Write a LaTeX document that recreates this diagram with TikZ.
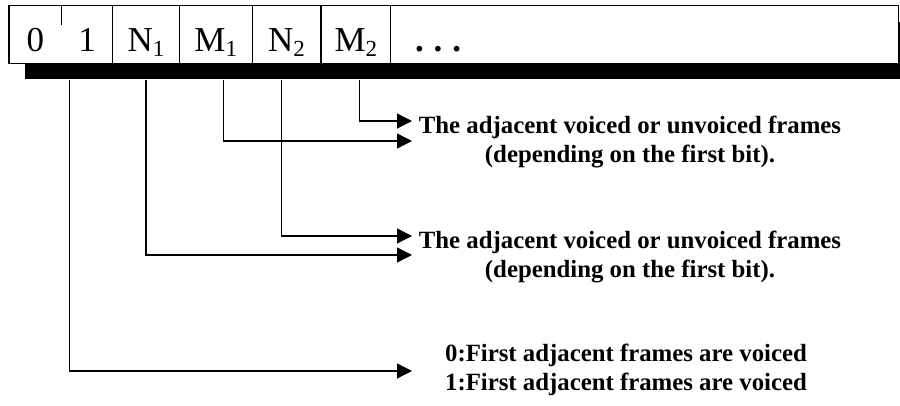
\documentclass[tikz,border=0pt]{standalone}
\usepackage{fontspec}
\setmainfont{Liberation Serif}
\usetikzlibrary{positioning,fit,calc,shadows,backgrounds,arrows.meta}

\newcommand{\idx}[1]{\raisebox{-0.3ex}{\fontsize{11.5}{12}\selectfont #1}}

\begin{document}
\begin{tikzpicture}[x=0.5pt,y=-0.5pt,
		cell/.style={inner sep=0pt,minimum height=28.5pt,text height=23pt,text depth=5.5pt,
			font=\fontsize{17.5}{20}\selectfont},
		desc/.style={align=center,font=\bfseries\fontsize{12.4}{14.5}\selectfont},
		arr/.style={line width=0.65pt,-{Triangle[length=7.5pt,width=7.5pt]}}]
	\useasboundingbox (0,0) rectangle (900,406);
	% the bit fields
	\node[cell,minimum width=26pt,anchor=west] (c0) at (9,34.5) {0};
	\node[cell,minimum width=25pt,right=0pt of c0] (c1) {1};
	\node[cell,minimum width=33pt,right=0pt of c1] (c2) {N\idx{1}};
	\node[cell,minimum width=36pt,right=0pt of c2] (c3) {M\idx{1}};
	\node[cell,minimum width=34pt,right=0pt of c3] (c4) {N\idx{2}};
	\node[cell,minimum width=34.5pt,right=0pt of c4] (c5) {M\idx{2}};
	\node[cell,minimum width=253.5pt,text width=229.5pt,inner xsep=12pt,align=left,right=0pt of c5] (c6) {\textbf{.\hspace{0.28em}.\hspace{0.28em}.}};
	\begin{scope}[on background layer]
		\node[fit=(c0)(c6),inner sep=0pt,draw,line width=0.6pt,fill=white,
			drop shadow={shadow xshift=8pt,shadow yshift=-8pt,fill=black,opacity=1}] (frame) {};
	\end{scope}
	\draw[line width=0.6pt] (c0.north east) -- ++(0,19);
	\foreach \c in {c1,c2,c3,c4,c5}
		\draw[line width=0.6pt] (\c.north east) -- (\c.south east);
	\coordinate (sb) at ([yshift=-8pt]frame.south);

	% descriptions
	\node[desc] (desc1) at (630,142) {The adjacent voiced or unvoiced frames\\(depending on the first bit).};
	\node[desc] (desc2) at (630,257) {The adjacent voiced or unvoiced frames\\(depending on the first bit).};
	\node[desc] (desc3) at (626,370) {0:First adjacent frames are voiced\\1:First adjacent frames are voiced};
	\coordinate (tip1) at (412,121);
	\coordinate (tip2) at (412,141);
	\coordinate (tip3) at (412,236);
	\coordinate (tip4) at (412,255);
	\coordinate (tip5) at (412,371);

	% connectors
	\foreach \c/\dx/\t in {c5/3.5/tip1,c3/8/tip2,c4/-5/tip3,c2/0/tip4,c1/-18/tip5}
		\draw[arr] ($(\c.south |- sb)+(\dx,0)$) |- (\t);
\end{tikzpicture}
\end{document}
